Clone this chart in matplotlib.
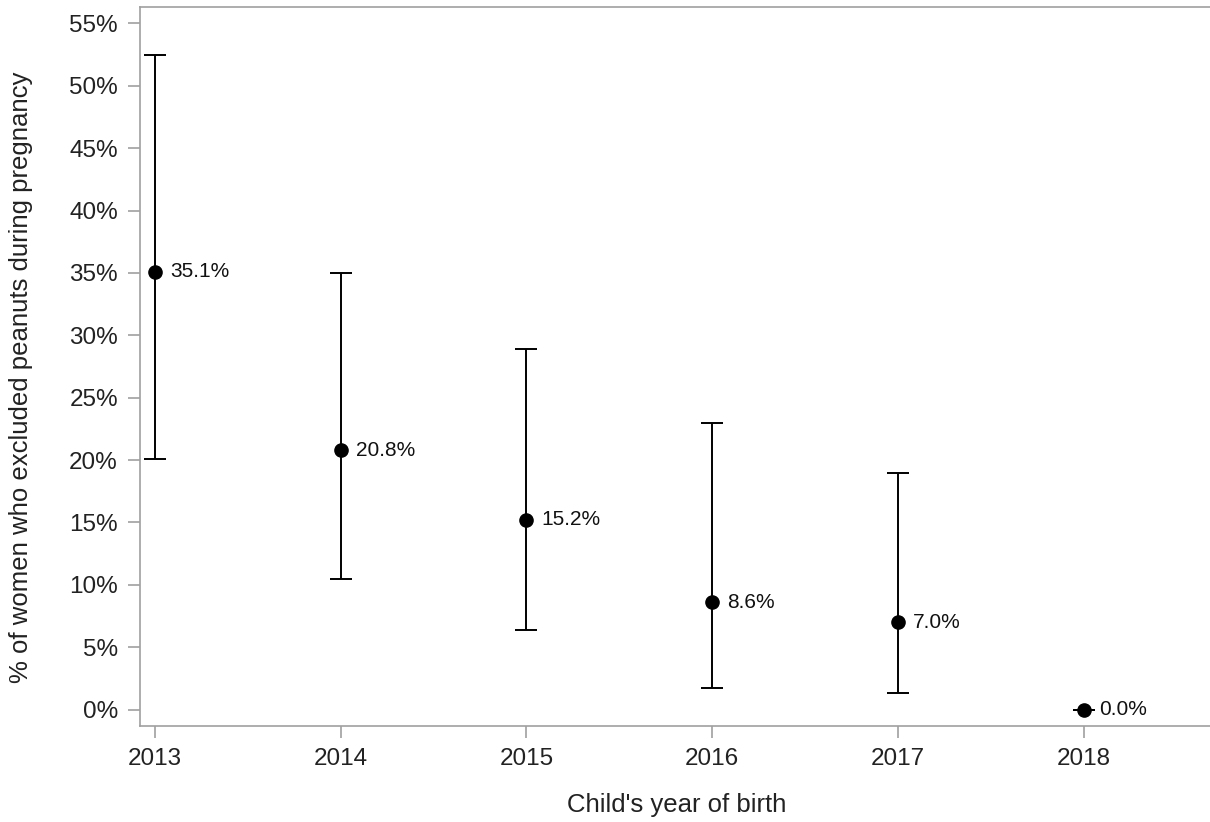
import matplotlib
matplotlib.use("Agg")
import matplotlib.pyplot as plt
from matplotlib.ticker import FuncFormatter

years = [2013, 2014, 2015, 2016, 2017, 2018]
pct = [35.1, 20.8, 15.2, 8.6, 7.0, 0.0]
lower = [20.1, 10.5, 6.4, 1.7, 1.3, 0.0]
upper = [52.5, 35.0, 28.9, 23.0, 19.0, 0.0]
y_ticks = list(range(0, 60, 5))

plt.rcParams['font.family'] = ['Liberation Sans', 'DejaVu Sans']

fig = plt.figure(figsize=(12.10, 8.22), dpi=100)
W, H = 1210, 822
left, right, top, bottom = 139.5, 1214, 7.5, 725.5
ax = fig.add_axes([left / W, 1 - bottom / H, (right - left) / W, (bottom - top) / H])

err_lo = [p - l for p, l in zip(pct, lower)]
err_hi = [u - p for p, u in zip(pct, upper)]
ax.errorbar(years, pct, yerr=[err_lo, err_hi], fmt='o', color='black',
            ecolor='black', elinewidth=1.4, capsize=8, capthick=1.4,
            markersize=9.5, zorder=3)

for x, p in zip(years, pct):
    ax.annotate(f"{p:.1f}%", (x, p), xytext=(11, 0), textcoords='offset points',
                va='center', ha='left', fontsize=15, color='#111111')

ax.set_xlim(2012.916, 2018 + (right - 1083.5) / 185.7)
ax.set_ylim(-1.28, 56.28)
ax.set_xticks(years)
ax.set_yticks(y_ticks)
ax.yaxis.set_major_formatter(FuncFormatter(lambda v, _: f"{v:.0f}%"))

spine_color = '#a0a0a0'
for s in ax.spines.values():
    s.set_color(spine_color)
    s.set_linewidth(1.2)
ax.tick_params(axis='both', colors=spine_color, labelcolor='#222222',
               length=8.5, width=1.2, labelsize=17.5)
ax.tick_params(axis='y', pad=7)
ax.tick_params(axis='x', pad=8)

ax.set_xlabel("Child's year of birth", fontsize=18.5, color='#222222', labelpad=16)
ax.set_ylabel("% of women who excluded peanuts during pregnancy", fontsize=18.5,
              color='#222222')
ax.yaxis.set_label_coords(-0.099, 0.485)

fig.savefig("out.png", dpi=100)
